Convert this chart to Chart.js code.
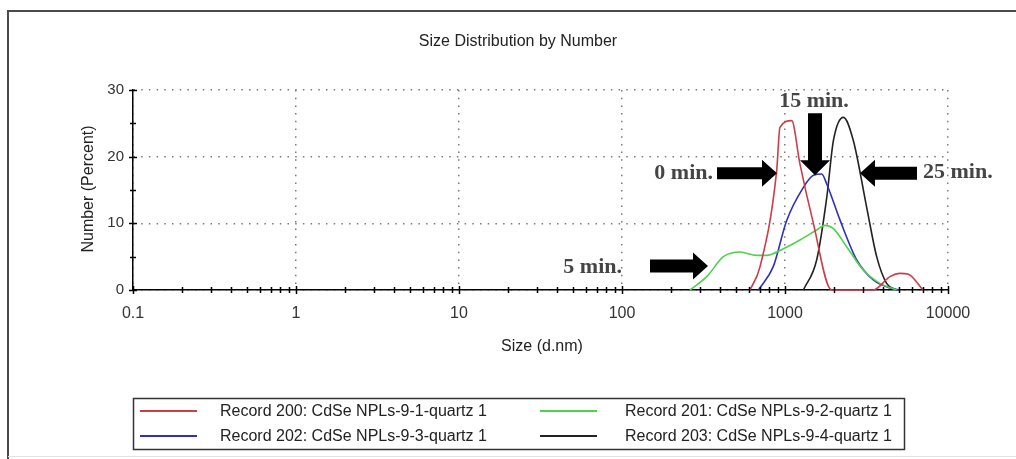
<!DOCTYPE html>
<html>
<head>
<meta charset="utf-8">
<script src="https://cdn.jsdelivr.net/npm/chart.js@4.4.1/dist/chart.umd.min.js"></script>
<style>
html,body{margin:0;padding:0;background:#fff;}
#wrap{width:1016px;height:459px;position:relative;}
</style>
</head>
<body>
<div id="wrap"><canvas id="c"></canvas></div>
<script>
// ---- data ----
const chartTitle = 'Size Distribution by Number';
const xAxisTitle = 'Size (d.nm)';
const yAxisTitle = 'Number (Percent)';
const xTickLabels = ['0.1', '1', '10', '100', '1000', '10000'];
const yTickValues = [0, 10, 20, 30];

const seriesLabels = [
  'Record 200: CdSe NPLs-9-1-quartz 1',
  'Record 201: CdSe NPLs-9-2-quartz 1',
  'Record 202: CdSe NPLs-9-3-quartz 1',
  'Record 203: CdSe NPLs-9-4-quartz 1'
];

const rec200Size = [610, 703, 889, 931, 1099, 1233, 1480, 1931, 3467, 4405, 5078, 5680, 7027];
const rec200Pct  = [0, 3.5, 17.9, 24.4, 25.4, 19.0, 10.4, 0, 0, 2.0, 2.5, 2.4, 0];

const rec201Size = [261, 331, 419, 530, 670, 772, 977, 1236, 1564, 1758, 1982, 2388, 3020, 3826, 4840];
const rec201Pct  = [0, 2.0, 5.0, 5.7, 5.2, 5.2, 6.2, 7.5, 9.0, 9.7, 9.2, 6.5, 3.0, 1.0, 0];

const rec202Size = [687, 847, 1023, 1297, 1494, 1680, 1803, 2182, 2756, 3483, 4405, 5078];
const rec202Pct  = [0, 3.5, 10.4, 15.4, 17.2, 17.4, 15.9, 10.4, 4.5, 1.5, 0.3, 0];

const rec203Size = [1297, 1564, 1804, 1981, 2282, 2627, 3170, 3651, 4200, 4840];
const rec203Pct  = [0, 4.5, 13.9, 22.4, 25.9, 22.4, 12.4, 5.0, 1.0, 0];

const annotationLabels = ['0 min.', '5 min.', '15 min.', '25 min.'];

// ---- styling / helpers ----
const seriesColors = ['#cc3d4a', '#4fd14f', '#2f2fbf', '#222222'];
const toPoints = (xs, ys) => xs.map((x, i) => ({x: x, y: ys[i]}));
const isMajor = v => {
  if (v == null || v <= 0) return false;
  const l = Math.log10(v);
  return Math.abs(l - Math.round(l)) < 1e-6;
};
const SANS = "'Liberation Sans', Arial, sans-serif";
const SERIF = "'Liberation Serif', 'Times New Roman', serif";

// annotation anchors (data space) and pixel geometry
const notes = [
  {text: annotationLabels[0], dir: 'right', x: 893, y: 17.5, shaft: 45, shaftW: 12, head: 15, headW: 27, tx: -64, ty: 6, align: 'right'},
  {text: annotationLabels[1], dir: 'right', x: 337, y: 3.6, shaft: 43, shaftW: 13, head: 15, headW: 27, tx: -86, ty: 7, align: 'right'},
  {text: annotationLabels[2], dir: 'down', x: 1528, y: 17.2, shaft: 47, shaftW: 14, head: 15, headW: 30, tx: -1, ty: -68, align: 'center'},
  {text: annotationLabels[3], dir: 'left', x: 2884, y: 17.5, shaft: 42, shaftW: 13, head: 15, headW: 27, tx: 63, ty: 5, align: 'left'}
];

function drawArrow(ctx, tx, ty, n) {
  ctx.beginPath();
  if (n.dir === 'right') {
    const hb = tx - n.head;
    ctx.moveTo(tx, ty);
    ctx.lineTo(hb, ty - n.headW / 2);
    ctx.lineTo(hb, ty - n.shaftW / 2);
    ctx.lineTo(hb - n.shaft, ty - n.shaftW / 2);
    ctx.lineTo(hb - n.shaft, ty + n.shaftW / 2);
    ctx.lineTo(hb, ty + n.shaftW / 2);
    ctx.lineTo(hb, ty + n.headW / 2);
  } else if (n.dir === 'left') {
    const hb = tx + n.head;
    ctx.moveTo(tx, ty);
    ctx.lineTo(hb, ty - n.headW / 2);
    ctx.lineTo(hb, ty - n.shaftW / 2);
    ctx.lineTo(hb + n.shaft, ty - n.shaftW / 2);
    ctx.lineTo(hb + n.shaft, ty + n.shaftW / 2);
    ctx.lineTo(hb, ty + n.shaftW / 2);
    ctx.lineTo(hb, ty + n.headW / 2);
  } else {
    const hb = ty - n.head;
    ctx.moveTo(tx, ty);
    ctx.lineTo(tx - n.headW / 2, hb);
    ctx.lineTo(tx - n.shaftW / 2, hb);
    ctx.lineTo(tx - n.shaftW / 2, hb - n.shaft);
    ctx.lineTo(tx + n.shaftW / 2, hb - n.shaft);
    ctx.lineTo(tx + n.shaftW / 2, hb);
    ctx.lineTo(tx + n.headW / 2, hb);
  }
  ctx.closePath();
  ctx.fill();
}

const decorPlugin = {
  id: 'decor',
  beforeDraw(chart) {
    const ctx = chart.ctx;
    ctx.save();
    ctx.fillStyle = '#fff';
    ctx.fillRect(0, 0, chart.width, chart.height);
    // outer frame
    ctx.strokeStyle = '#4a4a4a';
    ctx.lineWidth = 2;
    ctx.beginPath();
    ctx.moveTo(8, chart.height);
    ctx.lineTo(8, 11);
    ctx.lineTo(chart.width, 11);
    ctx.stroke();
    ctx.strokeStyle = '#e2e2e2';
    ctx.lineWidth = 1;
    ctx.beginPath();
    ctx.moveTo(8, 456.5);
    ctx.lineTo(chart.width, 456.5);
    ctx.stroke();
    ctx.restore();
  },
  afterDraw(chart) {
    const ctx = chart.ctx;
    const xs = chart.scales.x, ys = chart.scales.y;
    const area = chart.chartArea;
    ctx.save();
    // title
    ctx.fillStyle = '#222';
    ctx.font = '16px ' + SANS;
    ctx.textAlign = 'center';
    ctx.textBaseline = 'middle';
    ctx.fillText(chartTitle, 518, 42);
    // axis titles
    ctx.fillText(xAxisTitle, 542, 347);
    ctx.save();
    ctx.translate(89, 189);
    ctx.rotate(-Math.PI / 2);
    ctx.fillText(yAxisTitle, 0, 0);
    ctx.restore();

    // ticks crossing axes
    ctx.strokeStyle = '#000';
    ctx.lineWidth = 1.5;
    ctx.beginPath();
    const minExp = Math.round(Math.log10(xs.min));
    const maxExp = Math.round(Math.log10(xs.max));
    for (let e = minExp; e <= maxExp; e++) {
      for (let m = 1; m <= 9; m++) {
        const v = m * Math.pow(10, e);
        if (v > xs.max * 1.0001) break;
        const px = Math.round(xs.getPixelForValue(v)) + 0.5;
        const h = m === 1 ? 4 : 3;
        ctx.moveTo(px, area.bottom - h);
        ctx.lineTo(px, area.bottom + h);
      }
    }
    for (let v = ys.min; v <= ys.max; v += 5) {
      const py = Math.round(ys.getPixelForValue(v)) + 0.5;
      const h = v % 10 === 0 ? 4 : 3;
      ctx.moveTo(area.left - h, py);
      ctx.lineTo(area.left + h, py);
    }
    ctx.stroke();

    // legend
    const lx = 133.5, ly = 398.5, lw = 771, lh = 51;
    ctx.strokeStyle = '#333';
    ctx.lineWidth = 1.5;
    ctx.strokeRect(lx, ly, lw, lh);
    const cols = [{line: 140, text: 220}, {line: 540, text: 625}];
    const rows = [411, 436];
    const order = [[0, 0, 0], [1, 1, 0], [2, 0, 1], [3, 1, 1]];
    ctx.font = '16px ' + SANS;
    ctx.textAlign = 'left';
    ctx.textBaseline = 'middle';
    order.forEach(([di, c, r]) => {
      const ds = chart.data.datasets[di];
      ctx.strokeStyle = ds.borderColor;
      ctx.lineWidth = 1.8;
      ctx.beginPath();
      ctx.moveTo(cols[c].line, rows[r]);
      ctx.lineTo(cols[c].line + 57, rows[r]);
      ctx.stroke();
      ctx.fillStyle = '#222';
      ctx.fillText(ds.label, cols[c].text, rows[r] + 1);
    });

    // annotations
    ctx.font = 'bold 22px ' + SERIF;
    ctx.textBaseline = 'alphabetic';
    notes.forEach(n => {
      const tx = xs.getPixelForValue(n.x);
      const ty = ys.getPixelForValue(n.y);
      ctx.fillStyle = '#000';
      drawArrow(ctx, tx, ty, n);
      ctx.fillStyle = '#454545';
      ctx.textAlign = n.align;
      ctx.fillText(n.text, tx + n.tx, ty + n.ty);
    });
    ctx.restore();
  }
};

const sizesList = [rec200Size, rec201Size, rec202Size, rec203Size];
const pctList = [rec200Pct, rec201Pct, rec202Pct, rec203Pct];

new Chart(document.getElementById('c'), {
  type: 'line',
  data: {
    datasets: seriesLabels.map((lab, i) => ({
      label: lab,
      data: toPoints(sizesList[i], pctList[i]),
      borderColor: seriesColors[i],
      backgroundColor: seriesColors[i],
      borderWidth: 1.6,
      pointRadius: 0,
      tension: 0.3,
      cubicInterpolationMode: 'monotone',
      fill: false,
      clip: 6
    }))
  },
  options: {
    responsive: true,
    maintainAspectRatio: false,
    animation: false,
    events: [],
    layout: {padding: {left: 0, top: 90, right: 68, bottom: 0}},
    plugins: {legend: {display: false}, title: {display: false}, tooltip: {enabled: false}},
    scales: {
      x: {
        type: 'logarithmic',
        min: 0.1,
        max: 10000,
        afterFit(s) { s.height = 169; },
        grid: {
          color: c => (c.tick && isMajor(c.tick.value)) ? '#7a7a7a' : 'rgba(0,0,0,0)',
          lineWidth: 1.5,
          drawTicks: false
        },
        border: {display: true, color: '#000', width: 1.5, dash: [1.5, 6.2]},
        ticks: {
          autoSkip: false,
          maxRotation: 0,
          padding: 14,
          color: '#333',
          font: {family: SANS, size: 16},
          callback: v => isMajor(v) ? xTickLabels[Math.round(Math.log10(v)) + 1] : ''
        }
      },
      y: {
        min: 0,
        max: 30,
        afterFit(s) { s.width = 133; },
        afterBuildTicks(s) { s.ticks = yTickValues.map(v => ({value: v})); },
        grid: {color: '#7a7a7a', lineWidth: 1.5, drawTicks: false},
        border: {display: true, color: '#000', width: 1.5, dash: [1.5, 6.2]},
        ticks: {
          padding: 9,
          color: '#333',
          font: {family: SANS, size: 15}
        }
      }
    }
  },
  plugins: [decorPlugin]
});
</script>
</body>
</html>
